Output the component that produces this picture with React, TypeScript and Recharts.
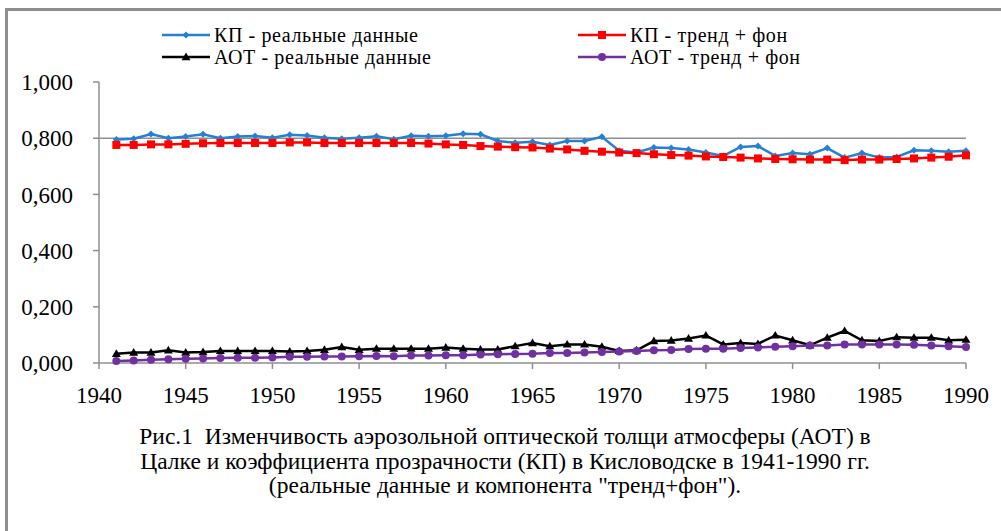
import React from 'react';
import { LineChart, Line, XAxis, YAxis, ReferenceLine } from 'recharts';

const years = [1941, 1942, 1943, 1944, 1945, 1946, 1947, 1948, 1949, 1950,
  1951, 1952, 1953, 1954, 1955, 1956, 1957, 1958, 1959, 1960,
  1961, 1962, 1963, 1964, 1965, 1966, 1967, 1968, 1969, 1970,
  1971, 1972, 1973, 1974, 1975, 1976, 1977, 1978, 1979, 1980,
  1981, 1982, 1983, 1984, 1985, 1986, 1987, 1988, 1989, 1990];

const kpReal = [0.795, 0.798, 0.815, 0.800, 0.806, 0.814, 0.800, 0.806, 0.808, 0.802,
  0.812, 0.810, 0.802, 0.798, 0.802, 0.807, 0.796, 0.809, 0.807, 0.809,
  0.816, 0.814, 0.790, 0.784, 0.787, 0.776, 0.790, 0.790, 0.805, 0.755,
  0.749, 0.767, 0.765, 0.760, 0.749, 0.737, 0.769, 0.772, 0.737, 0.747,
  0.743, 0.765, 0.731, 0.747, 0.731, 0.733, 0.757, 0.755, 0.752, 0.755];

const kpTrend = [0.776, 0.776, 0.778, 0.778, 0.780, 0.782, 0.783, 0.783, 0.783, 0.783,
  0.785, 0.785, 0.783, 0.783, 0.783, 0.783, 0.783, 0.783, 0.781, 0.778,
  0.776, 0.772, 0.770, 0.768, 0.767, 0.763, 0.760, 0.755, 0.752, 0.749,
  0.747, 0.743, 0.740, 0.738, 0.735, 0.733, 0.731, 0.728, 0.726, 0.725,
  0.724, 0.724, 0.722, 0.724, 0.724, 0.726, 0.728, 0.731, 0.734, 0.739];

const aotReal = [0.033, 0.037, 0.037, 0.045, 0.037, 0.039, 0.043, 0.043, 0.043, 0.043,
  0.041, 0.043, 0.047, 0.057, 0.047, 0.051, 0.051, 0.051, 0.051, 0.055,
  0.051, 0.048, 0.048, 0.060, 0.071, 0.060, 0.066, 0.066, 0.058, 0.043,
  0.045, 0.078, 0.080, 0.087, 0.098, 0.066, 0.071, 0.068, 0.098, 0.081,
  0.063, 0.090, 0.114, 0.081, 0.078, 0.092, 0.090, 0.090, 0.081, 0.083];

const aotTrend = [0.007, 0.009, 0.012, 0.013, 0.015, 0.016, 0.018, 0.019, 0.019, 0.020,
  0.022, 0.022, 0.023, 0.023, 0.024, 0.025, 0.024, 0.027, 0.027, 0.028,
  0.028, 0.030, 0.031, 0.032, 0.033, 0.036, 0.036, 0.037, 0.039, 0.041,
  0.043, 0.045, 0.046, 0.050, 0.051, 0.051, 0.053, 0.055, 0.058, 0.060,
  0.062, 0.062, 0.066, 0.066, 0.066, 0.066, 0.065, 0.062, 0.060, 0.057];

const xTicks = [1940, 1945, 1950, 1955, 1960, 1965, 1970, 1975, 1980, 1985, 1990];
const yTicks = [0, 0.2, 0.4, 0.6, 0.8, 1.0];

const seriesNames = {
  kpReal: 'КП - реальные данные',
  kpTrend: 'КП - тренд + фон',
  aotReal: 'АОТ - реальные данные',
  aotTrend: 'АОТ - тренд + фон',
};

const captionLines = [
  'Рис.1  Изменчивость аэрозольной оптической толщи атмосферы (АОТ) в',
  'Цалке и коэффициента прозрачности (КП) в Кисловодске в 1941-1990 гг.',
  '(реальные данные и компонента "тренд+фон").',
];

const COLORS = {
  kpReal: '#2480d2',
  kpTrend: '#ff0000',
  aotReal: '#000000',
  aotTrend: '#7030a0',
};

const data = years.map((y, i) => ({
  year: y,
  kpReal: kpReal[i],
  kpTrend: kpTrend[i],
  aotReal: aotReal[i],
  aotTrend: aotTrend[i],
}));

const FONT = '"Liberation Serif", "DejaVu Serif", serif';

const Diamond = (props: any) => {
  const { cx, cy, fill } = props;
  if (cx == null || cy == null) return null;
  const r = 3.5;
  return <path d={`M${cx},${cy - r}L${cx + r},${cy}L${cx},${cy + r}L${cx - r},${cy}Z`} fill={fill} />;
};
const Square = (props: any) => {
  const { cx, cy, fill } = props;
  if (cx == null || cy == null) return null;
  const r = 4;
  return <rect x={cx - r} y={cy - r} width={2 * r} height={2 * r} fill={fill} />;
};
const Triangle = (props: any) => {
  const { cx, cy, fill } = props;
  if (cx == null || cy == null) return null;
  const r = 4.5;
  return <path d={`M${cx},${cy - r}L${cx + r},${cy + r * 0.7}L${cx - r},${cy + r * 0.7}Z`} fill={fill} />;
};
const Circle = (props: any) => {
  const { cx, cy, fill } = props;
  if (cx == null || cy == null) return null;
  return <circle cx={cx} cy={cy} r={4} fill={fill} />;
};

const LegendIcon = ({ color, shape }: { color: string; shape: string }) => (
  <svg width={48} height={12} style={{ display: 'block' }}>
    <line x1={0} y1={6} x2={48} y2={6} stroke={color} strokeWidth={2.5} />
    {shape === 'diamond' && <Diamond cx={24} cy={6} fill={color} />}
    {shape === 'square' && <Square cx={24} cy={6} fill={color} />}
    {shape === 'triangle' && <Triangle cx={24} cy={6} fill={color} />}
    {shape === 'circle' && <Circle cx={24} cy={6} fill={color} />}
  </svg>
);

const LegendItem = ({ x, y, color, shape, label }: any) => (
  <div style={{ position: 'absolute', left: x, top: y - 10, height: 20, lineHeight: '20px', display: 'flex', alignItems: 'center', fontFamily: FONT, fontSize: 20, letterSpacing: '0.6px', color: '#000', whiteSpace: 'nowrap' }}>
    <LegendIcon color={color} shape={shape} />
    <span style={{ marginLeft: 4 }}>{label}</span>
  </div>
);

const fmtY = (v: number) => v.toFixed(3).replace('.', ',');

export default function App() {
  return (
    <div style={{ position: 'absolute', left: 0, top: 0, width: 1001, height: 531, background: '#fff', overflow: 'hidden' }}>
      <div style={{ position: 'absolute', left: 5, top: 8, right: 0, height: 3, background: '#8f8f8f' }} />
      <div style={{ position: 'absolute', left: 5, top: 8, bottom: 0, width: 3, background: '#8f8f8f' }} />
      <LegendItem x={162} y={35} color={COLORS.kpReal} shape="diamond" label={seriesNames.kpReal} />
      <LegendItem x={162} y={57} color={COLORS.aotReal} shape="triangle" label={seriesNames.aotReal} />
      <LegendItem x={578} y={35} color={COLORS.kpTrend} shape="square" label={seriesNames.kpTrend} />
      <LegendItem x={578} y={57} color={COLORS.aotTrend} shape="circle" label={seriesNames.aotTrend} />
      <div style={{ position: 'absolute', left: 0, top: 0 }}>
        <LineChart width={1001} height={531} data={data} margin={{ top: 82, right: 35, left: 39, bottom: 108 }}>
          <ReferenceLine y={0.8} stroke="#8f8f8f" strokeWidth={1.5} />
          <XAxis
            dataKey="year"
            type="number"
            domain={[1940, 1990]}
            ticks={xTicks}
            interval={0}
            height={60}
            tickSize={6}
            tickMargin={18}
            axisLine={{ stroke: '#8f8f8f', strokeWidth: 1.5 }}
            tickLine={{ stroke: '#8f8f8f', strokeWidth: 1.5 }}
            tick={{ fontFamily: FONT, fontSize: 23, fill: '#000' }}
          />
          <YAxis
            type="number"
            domain={[0, 1]}
            ticks={yTicks}
            interval={0}
            width={60}
            tickSize={6}
            tickMargin={20}
            tickFormatter={fmtY}
            axisLine={{ stroke: '#8f8f8f', strokeWidth: 1.5 }}
            tickLine={{ stroke: '#8f8f8f', strokeWidth: 1.5 }}
            tick={{ fontFamily: FONT, fontSize: 23, fill: '#000' }}
          />
          <Line dataKey="kpReal" stroke={COLORS.kpReal} strokeWidth={2.5} dot={<Diamond fill={COLORS.kpReal} />} activeDot={false} isAnimationActive={false} />
          <Line dataKey="kpTrend" stroke={COLORS.kpTrend} strokeWidth={2.5} dot={<Square fill={COLORS.kpTrend} />} activeDot={false} isAnimationActive={false} />
          <Line dataKey="aotReal" stroke={COLORS.aotReal} strokeWidth={2.5} dot={<Triangle fill={COLORS.aotReal} />} activeDot={false} isAnimationActive={false} />
          <Line dataKey="aotTrend" stroke={COLORS.aotTrend} strokeWidth={2.5} dot={<Circle fill={COLORS.aotTrend} />} activeDot={false} isAnimationActive={false} />
        </LineChart>
      </div>
      <div style={{ position: 'absolute', left: 0, width: 1010, top: 424, textAlign: 'center', fontFamily: FONT, fontSize: 23.5, lineHeight: '24.5px', color: '#000' }}>
        {captionLines.map((l, i) => (
          <div key={i} style={{ whiteSpace: 'pre' }}>{l}</div>
        ))}
      </div>
    </div>
  );
}
